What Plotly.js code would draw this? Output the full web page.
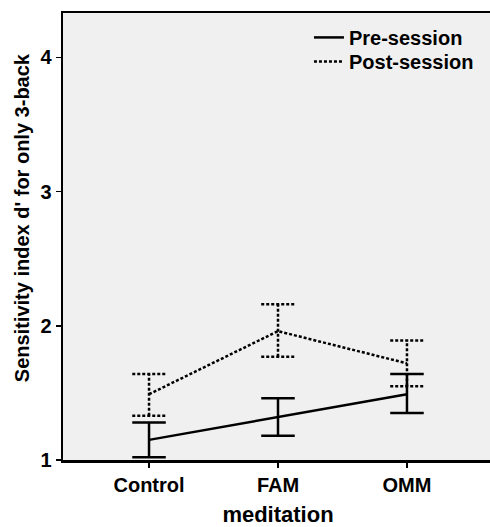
<!DOCTYPE html>
<html>
<head>
<meta charset="utf-8">
<script src="https://cdn.plot.ly/plotly-3.0.1.min.js"></script>
<style>
html, body { margin: 0; padding: 0; overflow: hidden; background: #ffffff; }
#chart { width: 494px; height: 527px; }
</style>
</head>
<body>
<div id="chart"></div>
<script>
var categories = ['Control', 'FAM', 'OMM'];
var seriesNames = ['Pre-session', 'Post-session'];
var preMean = [1.15, 1.32, 1.49];
var preHigh = [1.28, 1.46, 1.64];
var preLow = [1.02, 1.18, 1.35];
var postMean = [1.49, 1.96, 1.72];
var postHigh = [1.64, 2.16, 1.89];
var postLow = [1.33, 1.77, 1.55];
var yTicks = [1, 2, 3, 4];
var xTitle = 'meditation';
var yTitle = "Sensitivity index d' for only 3-back";

var xIdx = categories.map(function (c, i) { return i; });
var capHalf = 0.13;
var font = { family: 'Arial, Liberation Sans, sans-serif', size: 20, color: '#000000', weight: 'bold' };

function errTrace(lows, highs, dash) {
  var xs = [], ys = [];
  xIdx.forEach(function (x, i) {
    xs.push(x - capHalf, x + capHalf, null, x - capHalf, x + capHalf, null, x, x, null);
    ys.push(highs[i], highs[i], null, lows[i], lows[i], null, lows[i], highs[i], null);
  });
  return {
    x: xs, y: ys, type: 'scatter', mode: 'lines', showlegend: false, hoverinfo: 'skip',
    line: { color: '#000000', width: 2.5, dash: dash }
  };
}

var traces = [
  errTrace(preLow, preHigh, 'solid'),
  errTrace(postLow, postHigh, '3px,2px'),
  {
    x: xIdx, y: preMean, name: seriesNames[0], type: 'scatter', mode: 'lines',
    legend: 'legend',
    line: { color: '#000000', width: 2.5 }
  },
  {
    x: xIdx, y: postMean, name: seriesNames[1], type: 'scatter', mode: 'lines',
    legend: 'legend2',
    line: { color: '#000000', width: 2.5, dash: '3px,2px' }
  }
];

var legendBase = {
  x: 0.572, xanchor: 'left', yanchor: 'top',
  bgcolor: 'rgba(0,0,0,0)', borderwidth: 0, font: font
};

var layout = {
  width: 494, height: 527,
  margin: { l: 63, r: 1, t: 13, b: 67 },
  paper_bgcolor: '#ffffff',
  plot_bgcolor: '#f0f0f0',
  font: font,
  showlegend: true,
  legend: Object.assign({}, legendBase, { y: 0.989 }),
  legend2: Object.assign({}, legendBase, { y: 0.935 }),
  xaxis: {
    range: [-0.667, 2.667],
    tickmode: 'array', tickvals: xIdx, ticktext: categories,
    showgrid: false, zeroline: false,
    showline: true, linecolor: '#000000', linewidth: 2.5, mirror: true,
    ticks: 'outside', ticklen: 5, tickwidth: 1.5, tickcolor: '#000000',
    tickfont: font,
    title: { text: xTitle, font: Object.assign({}, font, { size: 22 }), standoff: 16 }
  },
  yaxis: {
    range: [1, 4.33],
    tickmode: 'array', tickvals: yTicks, ticktext: yTicks.map(String),
    showgrid: false, zeroline: false,
    showline: true, linecolor: '#000000', linewidth: 2.5,
    ticks: 'outside', ticklen: 5, tickwidth: 1.5, tickcolor: '#000000',
    tickfont: font
  },
  annotations: [{
    text: yTitle, textangle: -90, showarrow: false,
    xref: 'paper', yref: 'paper', x: -0.0953, y: 0.541,
    xanchor: 'center', yanchor: 'middle', font: font
  }]
};

Plotly.newPlot('chart', traces, layout, { displayModeBar: false, staticPlot: true });
</script>
</body>
</html>
